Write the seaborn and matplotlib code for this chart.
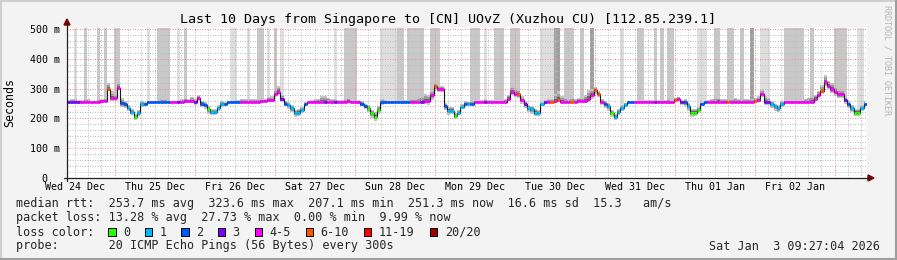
import numpy as np
import pandas as pd
import matplotlib
matplotlib.use("Agg")
import matplotlib.pyplot as plt
import seaborn as sns
from matplotlib.patches import Rectangle, Polygon
from matplotlib.lines import Line2D

# ---------------- data ----------------
title = "Last 10 Days from Singapore to [CN] UOvZ (Xuzhou CU) [112.85.239.1]"
day_labels = ["Wed 24 Dec", "Thu 25 Dec", "Fri 26 Dec", "Sat 27 Dec", "Sun 28 Dec",
              "Mon 29 Dec", "Tue 30 Dec", "Wed 31 Dec", "Thu 01 Jan", "Fri 02 Jan"]
first_noon_h = 2.28          # hours after window start
first_midnight_h = 14.28
y_ticks = [0, 100, 200, 300, 400, 500]
y_tick_labels = ["0", "100 m", "200 m", "300 m", "400 m", "500 m"]

# hourly median rtt (ms)
median_ms = [
    254,254,254,254,254,254,254,254,254,254,258,258,299,267,267,303,252,247,234,222,206,219,247,247,
    254,254,254,254,254,254,254,254,254,254,254,258,258,258,254,267,250,245,230,222,222,234,247,247,
    254,254,254,254,256,256,256,256,256,256,258,258,262,262,281,290,264,250,245,234,219,219,228,247,
    254,254,254,254,254,254,254,254,254,254,254,254,258,254,254,254,247,240,234,217,206,228,254,254,
    254,254,254,254,254,254,254,254,254,254,256,258,258,278,309,299,299,242,226,226,209,219,239,250,
    250,250,254,254,254,254,254,254,254,254,254,254,265,287,281,281,262,247,234,230,219,219,247,254,
    254,254,258,262,254,254,254,254,254,258,258,258,265,278,295,282,254,247,240,219,206,222,234,245,
    254,254,254,254,254,254,254,254,254,254,254,254,254,254,262,265,254,254,240,219,219,228,247,254,
    254,254,254,254,254,254,254,254,254,254,254,254,254,254,258,262,281,254,254,247,240,234,247,254,
    254,254,254,254,254,254,254,254,265,278,293,321,309,298,290,281,281,262,247,234,219,219,234,247,
]
# hourly loss class (index into loss_colors)
loss_class = [
    3,3,3,3,4,4,4,4,4,4,4,4,5,4,4,4,2,2,1,1,0,1,1,2,
    2,2,2,2,2,2,2,4,4,3,4,4,4,4,3,4,2,2,0,1,1,1,1,2,
    2,2,2,2,4,4,4,4,4,4,4,4,4,4,4,4,3,2,1,1,1,1,1,2,
    4,4,4,4,4,3,4,4,3,4,4,4,4,4,4,4,2,2,0,0,0,0,2,2,
    2,2,2,2,2,2,2,4,4,4,3,4,4,4,5,4,4,2,1,1,0,1,1,2,
    1,2,4,4,4,3,4,4,4,4,4,4,4,4,4,5,4,3,1,1,1,1,1,3,
    4,5,4,5,4,4,4,5,4,4,4,4,4,4,5,5,4,2,1,0,1,1,1,1,
    2,2,4,4,4,4,4,4,3,4,4,4,4,4,5,4,3,2,1,0,0,0,2,2,
    4,4,4,4,4,4,5,4,4,4,4,4,4,4,5,4,4,3,3,1,1,1,1,4,
    4,4,4,4,4,4,4,4,4,4,5,4,4,4,4,4,4,3,2,1,0,0,1,2,
]
# smoke spread above / below the median (ms)
smoke_up = [
    8,10,12,8,8,10,12,6,6,10,8,10,20,25,15,20,15,10,10,10,10,10,12,8,
    6,6,6,8,12,10,8,6,6,8,10,10,8,14,10,12,10,10,12,10,10,10,10,8,
    6,6,8,8,8,8,8,8,8,8,8,8,10,12,15,20,15,10,10,10,10,12,10,8,
    6,8,10,12,20,22,15,10,10,8,8,10,10,8,8,8,10,10,12,12,14,14,12,8,
    6,6,6,8,8,8,8,10,12,15,20,25,20,15,12,12,10,10,12,12,10,10,10,8,
    6,6,6,6,8,10,8,8,6,6,8,10,15,25,20,15,12,10,10,12,12,10,8,8,
    10,12,25,30,20,15,12,15,10,10,12,20,30,20,12,10,10,12,12,10,10,10,10,8,
    6,6,6,6,8,8,8,8,8,8,8,8,10,8,8,8,8,10,12,12,12,10,8,6,
    8,10,15,18,12,10,10,12,15,10,10,10,12,12,10,12,15,20,15,10,10,10,10,8,
    6,6,6,6,8,10,15,20,15,15,20,25,18,20,18,15,15,12,12,12,12,12,10,10,
]
smoke_dn = [
    3,3,3,3,3,3,3,3,3,3,3,3,8,10,8,8,15,12,10,12,10,10,10,6,
    3,3,3,3,3,3,3,3,3,3,3,4,4,6,8,10,12,12,14,12,12,10,8,5,
    3,3,3,3,3,3,3,3,3,3,3,3,4,6,8,10,10,10,12,14,14,12,10,6,
    3,3,3,3,3,3,3,3,3,3,3,3,3,3,3,4,6,10,12,14,14,12,10,5,
    3,3,3,3,3,3,3,3,3,3,3,10,12,15,14,12,12,14,14,12,10,8,6,5,
    3,3,3,3,3,3,3,3,3,3,3,3,6,10,10,12,12,12,12,14,12,10,6,4,
    3,3,3,3,3,3,3,3,3,3,3,6,10,12,12,10,10,12,14,14,12,10,8,5,
    3,3,3,3,3,3,3,3,3,3,3,3,4,4,4,6,8,12,14,14,12,10,6,4,
    3,3,3,3,3,3,3,3,3,3,3,3,3,3,4,6,8,8,10,12,14,12,8,4,
    3,3,3,3,3,3,3,3,6,8,10,12,12,12,14,14,12,12,12,12,12,12,10,8,
]
# lost-ping columns reaching the top (0 none, 1 light, 2 medium, 3 dark)
loss_bar = [
    0,0,1,0,0,2,0,0,0,2,0,2,0,0,2,2,0,0,0,0,0,0,0,0,
    1,0,0,2,2,2,2,0,0,1,0,2,0,0,0,0,0,0,0,0,0,0,0,0,
    0,1,1,0,0,0,1,0,0,2,2,0,1,0,2,0,1,0,0,0,0,0,0,0,
    0,0,0,0,0,0,0,0,1,0,0,2,2,2,2,0,0,0,0,0,0,0,1,1,
    1,1,1,2,2,0,2,2,2,2,2,0,0,2,2,2,0,0,0,0,0,0,0,0,
    0,2,2,2,0,1,0,0,2,2,2,0,0,2,2,2,0,0,0,0,0,0,1,1,
    1,1,3,3,0,2,2,2,0,0,2,0,0,3,0,0,0,0,0,0,0,0,1,0,
    0,0,0,2,2,0,0,0,2,0,2,0,2,2,0,0,0,0,0,0,0,1,1,1,
    0,0,2,2,0,0,2,2,0,0,2,0,0,3,0,0,1,1,1,0,0,0,0,2,
    2,2,2,2,2,0,0,2,0,0,0,0,0,0,2,2,2,2,0,0,0,1,1,0,
]
loss_labels = ["0", "1", "2", "3", "4-5", "6-10", "11-19", "20/20"]
loss_colors = ["#26ff00", "#00b8ff", "#0059ff", "#7e00ff", "#ff00ff", "#ff5500", "#ff0000", "#a10000"]
stat_lines = [
    "median rtt:  253.7 ms avg  323.6 ms max  207.1 ms min  251.3 ms now  16.6 ms sd  15.3   am/s",
    "packet loss: 13.28 % avg  27.73 % max  0.00 % min  9.99 % now",
]
probe_line = "probe:       20 ICMP Echo Pings (56 Bytes) every 300s"
stamp = "Sat Jan  3 09:27:04 2026"

# ---------------- style ----------------
sns.set_theme(style="white")
plt.rcParams["font.family"] = ["DejaVu Sans Mono"]
MONO = "DejaVu Sans Mono"

W, H = 897, 260
fig = plt.figure(figsize=(W / 100, H / 100), dpi=100, facecolor="#f3f3f3")
fx = lambda x: x / W
fy = lambda y: 1 - y / H

X0, X1, YB, YT = 67, 867, 178, 28
ax = fig.add_axes([fx(X0), fy(YB), (X1 - X0) / W, (YB - YT) / H])
ax.set_facecolor("white")
YMAX = 500 * (YB - YT) / (178 - 29)
ax.set_xlim(0, 240)
ax.set_ylim(0, YMAX)

df = pd.DataFrame({"hour": np.arange(len(median_ms)), "median": median_ms,
                   "loss": loss_class, "up": smoke_up, "dn": smoke_dn, "bar": loss_bar})
med = df["median"].to_numpy(float)
hi = med + df["up"].to_numpy(float)
lo = med - df["dn"].to_numpy(float)
edges = np.append(df["hour"].to_numpy(float), len(df) - 0.6)
step = lambda a: np.append(a, a[-1])

# lost-ping columns
bar_shades = {1: "#dedede", 2: "#c8c8c8", 3: "#a0a0a0"}
for lvl, shade in bar_shades.items():
    sel = df["bar"] == lvl
    ax.bar(df["hour"][sel], YMAX - hi[sel], bottom=hi[sel], width=1, align="edge",
           color=shade, linewidth=0, zorder=1)

# smoke layers
for frac, col in [(1.0, "#c4c4c4"), (0.65, "#9a9a9a"), (0.35, "#6a6a6a")]:
    ax.fill_between(edges, step(med - (med - lo) * frac), step(med + (hi - med) * frac),
                    step="post", color=col, linewidth=0, zorder=1.5)

# grid (drawn over the smoke, like rrdtool)
dots = (0, (1, 1.5))
minor_y = [v for v in range(20, 500, 20) if v % 100]
ax.hlines(minor_y, 0, 240, colors="#bebebe", lw=0.72, linestyles=dots, zorder=2.5)
ax.hlines(y_ticks[1:], 0, 240, colors="#f09090", lw=0.72, linestyles=dots, zorder=2.6)
midnights = [first_midnight_h + 24 * k for k in range(10)]
minor_x = [first_noon_h + 4 * k for k in range(60) if first_noon_h + 4 * k < 240
           and all(abs(first_noon_h + 4 * k - m) > 0.1 for m in midnights)]
ax.vlines(minor_x, 0, YMAX, colors="#bebebe", lw=0.72, linestyles=dots, zorder=2.5)
ax.vlines(midnights, 0, YMAX, colors="#f09090", lw=0.72, linestyles=dots, zorder=2.6)

# median line: black step + loss-coloured segments
sdf = pd.DataFrame({"hour": edges, "median": step(med)})
sns.lineplot(data=sdf, x="hour", y="median", drawstyle="steps-post", color="#1a1a1a",
             lw=0.8, ax=ax, zorder=3, legend=False)
ax.hlines(med, df["hour"], df["hour"] + 1, colors=[loss_colors[c] for c in df["loss"]],
          lw=2.0, zorder=4)

# axes decoration
for s in ax.spines.values():
    s.set_visible(False)
ax.set_xlabel("")
ax.set_ylabel("")
ax.set_xticks([first_noon_h + 24 * k for k in range(len(day_labels))], day_labels)
ax.set_yticks(y_ticks, y_tick_labels)
ax.tick_params(axis="both", length=0, labelsize=7.2, colors="#000000")
ax.tick_params(axis="x", pad=3)
ax.tick_params(axis="y", pad=16)
for t in ax.get_yticklabels():
    t.set_ha("center")
    t.set_fontfamily(MONO)
for t in ax.get_xticklabels():
    t.set_fontfamily(MONO)

# axis lines with arrows (pixel-based, figure coords)
axis_col = "#202020"
fig.add_artist(Line2D([fx(X0), fx(X0)], [fy(YB + 3), fy(23)], color=axis_col, lw=0.9))
fig.add_artist(Line2D([fx(X0 - 3), fx(870)], [fy(YB), fy(YB)], color=axis_col, lw=0.9))
fig.add_artist(Polygon([[fx(X0 - 3), fy(25)], [fx(X0 + 3), fy(25)], [fx(X0), fy(19)]],
                       closed=True, color="#7f0000", transform=fig.transFigure))
fig.add_artist(Polygon([[fx(868), fy(YB - 3)], [fx(868), fy(YB + 3)], [fx(874), fy(YB)]],
                       closed=True, color="#7f0000", transform=fig.transFigure))

# titles
fig.text(fx(448), fy(19), title, ha="center", va="center", fontsize=9.6, family=MONO, color="#000")
fig.text(fx(10), fy(103), "Seconds", ha="center", va="center", rotation=90, fontsize=8.4,
         family=MONO, color="#000")
fig.text(fx(887), fy(60), "RRDTOOL / TOBI OETIKER", ha="center", va="center", rotation=270,
         fontsize=6, family=MONO, color="#b4b4b4")

# legend block
LX = 16
for i, line in enumerate(stat_lines):
    fig.text(fx(LX), fy(204 + 14 * i), line, ha="left", va="center", fontsize=8.5, family=MONO)
fig.text(fx(LX), fy(232), "loss color:", ha="left", va="center", fontsize=8.5, family=MONO)
bx = 108.3
for lab, col in zip(loss_labels, loss_colors):
    fig.add_artist(Rectangle((fx(bx), fy(236.3)), 7.3 / W, 8.3 / H, facecolor=col,
                             edgecolor="#000", lw=0.7, transform=fig.transFigure))
    fig.text(fx(bx + 14.7), fy(232), lab, ha="left", va="center", fontsize=8.5, family=MONO)
    bx += (len(lab) + 4) * 7.31
fig.text(fx(LX), fy(246), probe_line, ha="left", va="center", fontsize=8.5, family=MONO)
fig.text(fx(880), fy(246), stamp, ha="right", va="center", fontsize=8.5, family=MONO)

# frame (rrdtool shading)
fig.add_artist(Line2D([0, 1], [fy(0.5), fy(0.5)], color="#cfcfcf", lw=1.5))
fig.add_artist(Line2D([fx(0.5), fx(0.5)], [0, 1], color="#cfcfcf", lw=1.5))
fig.add_artist(Line2D([0, 1], [fy(H - 1), fy(H - 1)], color="#9e9e9e", lw=1.5))
fig.add_artist(Line2D([fx(W - 1), fx(W - 1)], [0, 1], color="#9e9e9e", lw=1.5))

fig.savefig("out.png", dpi=100, facecolor=fig.get_facecolor())
